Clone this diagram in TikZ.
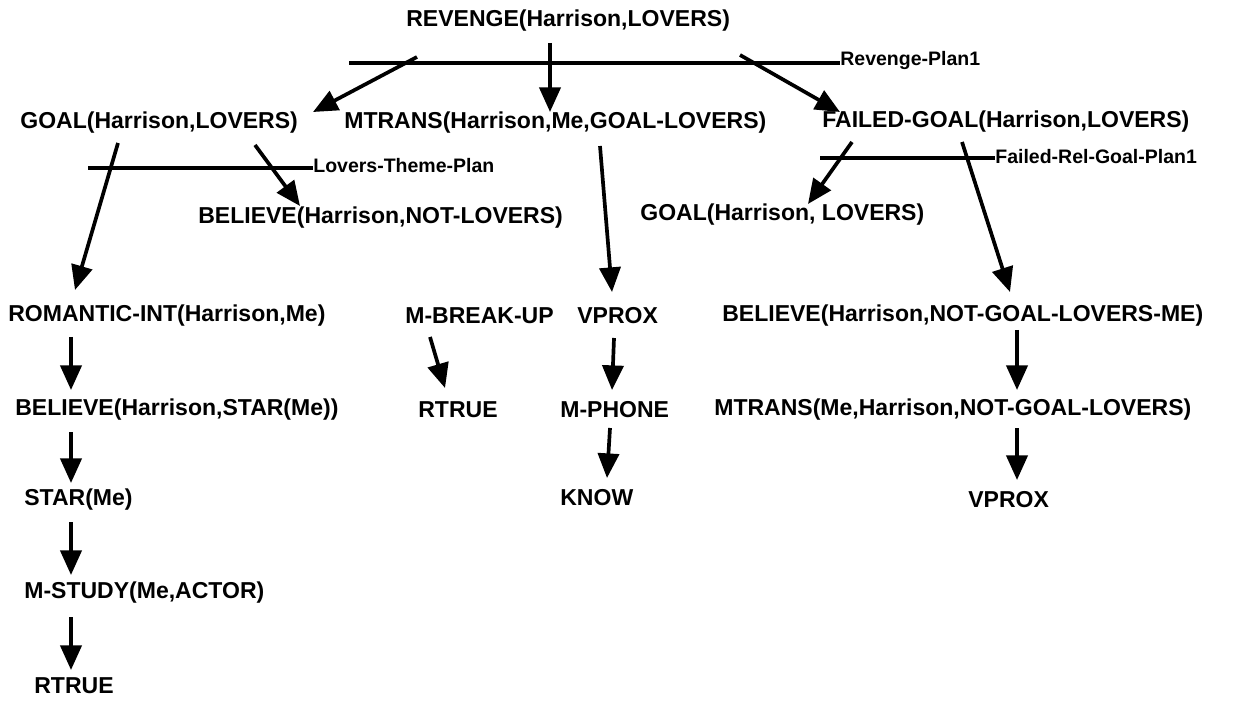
\documentclass[tikz,border=0pt]{standalone}
\usepackage{fontspec}
\newfontfamily\lblfont{Liberation Sans Bold}
\usetikzlibrary{arrows.meta}
\begin{document}
\begin{tikzpicture}[x=0.02cm,y=-0.02cm,
  lbl/.style={font=\lblfont\fontsize{13.1}{16}\selectfont, inner sep=0pt, anchor=west},
  planlbl/.style={font=\lblfont\fontsize{11.1}{13}\selectfont, inner sep=0pt, anchor=west},
  arr/.style={line width=2.1pt, -{Triangle[length=14pt,width=12pt]}},
  planline/.style={line width=2.1pt}]
\useasboundingbox[fill=white] (0,0) rectangle (1236,705);

% goal / plan nodes
\node[lbl] (rev)     at (406,21)  {REVENGE(Harrison,LOVERS)};
\node[lbl] (goal1)   at (20,123)  {GOAL(Harrison,LOVERS)};
\node[lbl] (mtrans1) at (344,123) {MTRANS(Harrison,Me,GOAL-LOVERS)};
\node[lbl] (failed)  at (822,122) {FAILED-GOAL(Harrison,LOVERS)};
\node[lbl] (bel1)    at (198,218) {BELIEVE(Harrison,NOT-LOVERS)};
\node[lbl] (goal2)   at (640,215) {GOAL(Harrison, LOVERS)};
\node[lbl] (rom)     at (8,316)   {ROMANTIC-INT(Harrison,Me)};
\node[lbl] (mbreak)  at (405,316) {M-BREAK-UP};
\node[lbl] (vprox1)  at (577,316) {VPROX};
\node[lbl] (bel2)    at (722,316) {BELIEVE(Harrison,NOT-GOAL-LOVERS-ME)};
\node[lbl] (bel3)    at (15,410)  {BELIEVE(Harrison,STAR(Me))};
\node[lbl] (rtrue1)  at (418,410) {RTRUE};
\node[lbl] (mphone)  at (560,410) {M-PHONE};
\node[lbl] (mtrans2) at (714,410) {MTRANS(Me,Harrison,NOT-GOAL-LOVERS)};
\node[lbl] (star)    at (24,500)  {STAR(Me)};
\node[lbl] (know)    at (560,498) {KNOW};
\node[lbl] (vprox2)  at (968,500) {VPROX};
\node[lbl] (mstudy)  at (24,593)  {M-STUDY(Me,ACTOR)};
\node[lbl] (rtrue2)  at (34,686)  {RTRUE};

% plan bars with their names
\coordinate (rp0) at (349,63);
\node[planlbl] (rplan) at (840,61) {Revenge-Plan1};
\draw[planline] (rp0) -- (rplan.west |- rp0);
\coordinate (lp0) at (88,168);
\node[planlbl] (lplan) at (313,166) {Lovers-Theme-Plan};
\draw[planline] (lp0) -- (lplan.west |- lp0);
\coordinate (fp0) at (820,158);
\node[planlbl] (fplan) at (995,157) {Failed-Rel-Goal-Plan1};
\draw[planline] (fp0) -- (fplan.west |- fp0);

% arrow end points
\coordinate (a1) at (417,57);  \coordinate (b1) at (313,112);
\coordinate (a2) at (550,43);  \coordinate (b2) at (550,112);
\coordinate (a3) at (740,55);  \coordinate (b3) at (840,112);
\coordinate (a4) at (118,143); \coordinate (b4) at (75,290);
\coordinate (a5) at (255,145); \coordinate (b5) at (300,206);
\coordinate (a6) at (600,146); \coordinate (b6) at (612,292);
\coordinate (a7) at (852,142); \coordinate (b7) at (808,204);
\coordinate (a8) at (962,142); \coordinate (b8) at (1010,292);
\coordinate (a9) at (71,337);  \coordinate (b9) at (71,390);
\coordinate (a10) at (430,337); \coordinate (b10) at (445,388);
\coordinate (a11) at (614,338); \coordinate (b11) at (612,390);
\coordinate (a12) at (1017,330); \coordinate (b12) at (1017,390);
\coordinate (a13) at (71,432); \coordinate (b13) at (71,483);
\coordinate (a14) at (610,428); \coordinate (b14) at (607,478);
\coordinate (a15) at (1017,428); \coordinate (b15) at (1017,480);
\coordinate (a16) at (71,522); \coordinate (b16) at (71,575);
\coordinate (a17) at (71,617); \coordinate (b17) at (71,670);

\foreach \i in {1,...,17} \draw[arr] (a\i) -- (b\i);
\end{tikzpicture}
\end{document}
